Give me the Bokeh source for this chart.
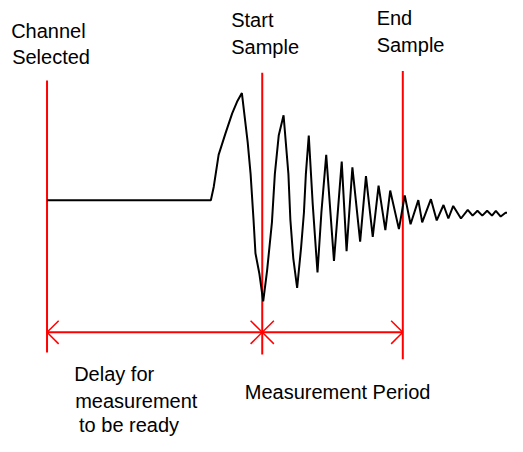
from bokeh.plotting import figure
from bokeh.models import Range1d, ColumnDataSource
from bokeh.core.properties import value
from bokeh.embed import file_html
from bokeh.resources import INLINE

# ---- data (diagram coordinates: x = time position, y = screen-like, downwards) ----
wave_x = [48, 217, 220, 225, 232, 239, 244, 249, 255, 258, 261, 263, 267, 271,
          275, 280, 283, 287, 292, 297, 299, 302, 306, 310, 313, 315, 318,
          322, 327, 331, 336, 340, 344, 352, 357, 363, 371, 377, 384, 390,
          397, 402, 411, 417, 423, 431, 435, 444, 450, 457, 462, 467, 475,
          482, 487, 492, 497, 502, 507, 511, 516, 521, 523]
wave_y = [207, 207, 193, 160, 138, 117, 105, 96, 147, 180, 227, 262, 283, 312,
          280, 230, 180, 140, 119, 180, 227, 267, 298, 257, 220, 180, 140,
          210, 282, 220, 160, 215, 270, 167, 260, 173, 250, 182, 245, 192,
          238, 197, 237, 202, 232, 207, 230, 206, 228, 212, 226, 213, 226,
          217, 223, 218, 223, 218, 223, 218, 224, 220, 220]

event_x = [48, 270, 415]          # Channel Selected, Start Sample, End Sample
event_top = [83, 75, 73]
event_bottom = [365, 367, 372]
arrow_y = 344
arrow_tips = [48, 270, 270, 415]
arrow_dirs = [1, -1, 1, -1]       # side on which the arrow wings open

labels = ["Channel", "Selected", "Start", "Sample", "End", "Sample",
          "Delay for", "measurement", "to be ready", "Measurement Period"]
label_x = [11, 12, 238, 238, 388, 388, 76, 77, 81, 252]
label_y = [39, 66, 27, 55, 25, 53, 394, 422, 447, 413]

# ---- figure ----
p = figure(width=507, height=436, x_range=Range1d(0, 523), y_range=Range1d(452, 0),
           x_axis_type=None, y_axis_type=None, toolbar_location=None,
           output_backend="svg", min_border=0)
p.grid.visible = False
p.outline_line_color = None
p.background_fill_color = "white"
p.border_fill_color = "white"

RED = "#ff0000"

# event marker lines
p.segment(x0=event_x, y0=event_top, x1=event_x, y1=event_bottom,
          line_color=RED, line_width=2)

# horizontal dimension line
p.segment(x0=[event_x[0]], y0=[arrow_y], x1=[event_x[-1]], y1=[arrow_y],
          line_color=RED, line_width=2)

# arrow heads
w = 12
hx0, hy0, hx1, hy1 = [], [], [], []
for tx, d in zip(arrow_tips, arrow_dirs):
    for s in (-1, 1):
        hx0.append(tx); hy0.append(arrow_y)
        hx1.append(tx + d * w); hy1.append(arrow_y + s * w)
p.segment(x0=hx0, y0=hy0, x1=hx1, y1=hy1, line_color=RED, line_width=1.5)

# waveform
p.line(wave_x, wave_y, line_color="black", line_width=2)

# labels
src = ColumnDataSource(dict(x=label_x, y=label_y, t=labels))
p.text(x="x", y="y", text="t", source=src, text_font=value("Liberation Sans"),
       text_font_size="20px", text_color="black", text_align="left",
       text_baseline="alphabetic", y_offset=-7)

open("out.html", "w").write(file_html(p, INLINE))
